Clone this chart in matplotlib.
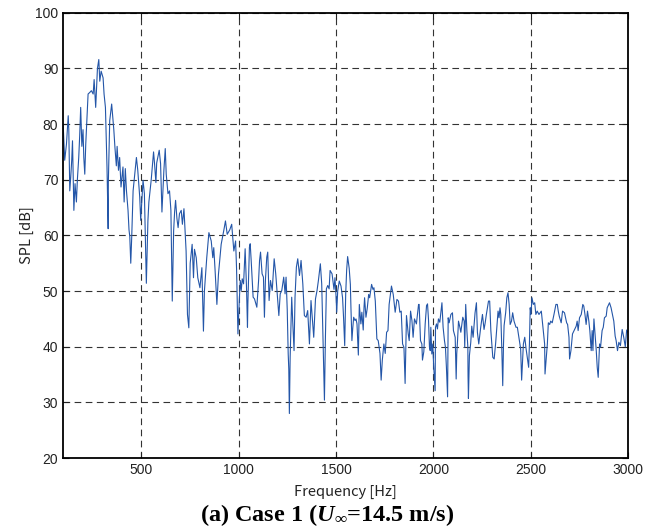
import matplotlib
matplotlib.use('Agg')
import matplotlib.pyplot as plt

# SPL spectrum, in pieces of ~500 Hz
freq_a = [100, 108, 117, 126, 129, 134, 139, 144, 148, 155, 161, 168, 173, 180, 185,
          190, 196, 202, 206, 211, 216, 220, 228, 237, 245, 254, 259, 267, 276, 283,
          288, 295, 305, 310, 317, 325, 331, 332, 339, 349, 360, 366, 373, 377, 384,
          390, 397, 407, 413, 419, 425, 433, 438, 442, 447, 452, 459, 466, 476, 483,
          493, 498, 510, 517, 522, 527]
spl_a = [80, 73.5, 76.4, 81.5, 79, 68, 70.5, 73.5, 77, 64.5, 69.3, 66, 70, 74, 78,
         83, 76, 79, 74, 71, 76.4, 79.4, 85.4, 85.7, 86, 85.4, 88, 83, 90, 91.6,
         87.7, 89.5, 88.3, 85.4, 83, 72.3, 61.2, 69.6, 80.6, 83.6, 79, 75.7, 72.5, 76, 71.7,
         74, 68.7, 72.3, 66, 72, 68, 64.5, 61, 59.8, 55, 59.8, 68, 70.5, 74, 71.7,
         66.9, 62.7, 69.9, 67.5, 59.8, 51.4]

freq_b = [535, 540, 552, 564, 569, 576, 580, 593, 600, 607, 617, 624, 629, 638, 646,
          653, 660, 667, 672, 677, 684, 690, 697, 706, 712, 720, 731, 738, 745, 752,
          762, 769, 774, 783, 791, 802, 812, 820, 825, 837, 848, 860, 868, 873, 880,
          889, 897, 911, 925, 933, 942, 955, 965, 976, 985, 990, 997]
spl_b = [62.6, 66, 70, 75, 72.9, 69.5, 73, 75.3, 72.9, 64.2, 71.7, 75.6, 71, 67.5, 68,
         64.5, 48.2, 60.8, 64.2, 66.3, 63, 61.4, 63.9, 64.5, 62, 64.8, 57.2, 45.8, 43.4, 55,
         58.4, 52.4, 57.5, 56, 52.4, 50.6, 54.2, 42.8, 50, 56, 60.5, 59, 56, 57.8, 53.6,
         47.6, 53, 58.4, 61, 62.6, 60.2, 61, 62, 57.2, 59, 54, 42.3]

freq_c = [1004, 1009, 1014, 1019, 1026, 1034, 1041, 1046, 1048, 1056, 1060, 1065, 1075, 1082, 1094,
          1103, 1108, 1113, 1121, 1128, 1133, 1138, 1145, 1150, 1157, 1164, 1173, 1183, 1191, 1207,
          1214, 1222, 1232, 1239, 1244, 1250, 1255, 1258, 1261, 1265, 1273, 1278, 1285, 1290, 1297,
          1304, 1313, 1321, 1330, 1338, 1347, 1355, 1364, 1372, 1386, 1395, 1403, 1410, 1420, 1427,
          1436, 1441, 1446, 1451, 1458, 1465, 1470, 1480]
spl_c = [48.3, 51.9, 50.1, 52.2, 51.3, 57.6, 50.7, 43.5, 47.7, 57.9, 58.5, 55.5, 48.9, 48.6, 47.1,
         51.9, 55.5, 57, 53.1, 52.5, 45.3, 51.9, 56.1, 57, 48.3, 51.9, 50.1, 55.8, 53.1, 45.6,
         49.5, 50.1, 52.5, 49.5, 52.5, 46.7, 38.7, 36, 28, 38.1, 48.9, 44.7, 39.3, 48.9, 54.3,
         55.8, 52.8, 55.5, 51.3, 45.6, 45.3, 46.5, 40.5, 48.3, 41.7, 48.6, 50.1, 51.9, 54.9, 51.3,
         37.5, 30.4, 41.7, 50.4, 51, 50.4, 53.7, 53.1]

freq_d = [1490, 1495, 1500, 1504, 1509, 1517, 1526, 1534, 1539, 1545, 1550, 1555, 1560, 1568, 1574,
          1577, 1582, 1586, 1591, 1598, 1603, 1608, 1615, 1620, 1628, 1633, 1640, 1644, 1647, 1654,
          1661, 1668, 1673, 1683, 1690, 1695, 1702, 1710, 1717, 1726, 1732, 1738, 1746, 1753, 1760,
          1767, 1773, 1785, 1794, 1804, 1813, 1821, 1828, 1835, 1842, 1849, 1855, 1862, 1871, 1876,
          1883, 1890, 1896, 1903, 1913, 1924, 1927, 1934, 1941, 1944, 1951, 1958]
spl_d = [50.3, 52.4, 49.4, 46.2, 50, 51.8, 50.9, 48.8, 45.3, 40.2, 49.4, 53.8, 56.2, 54.1, 51.2,
         47, 41.1, 43.2, 45.3, 44.7, 45, 44.1, 38.5, 47.6, 44.1, 46.2, 43, 47, 48.8, 45.3,
         47, 49.4, 48.8, 51.2, 50.3, 50.6, 48.2, 41.4, 41.1, 38.8, 34, 37.6, 40.5, 38.8, 42.6,
         42.9, 47.6, 50.9, 49.4, 46.2, 48.5, 48.2, 46.2, 46.4, 40.5, 39.9, 33.4, 45.6, 42.3, 41.1,
         46.4, 44.7, 41.7, 45, 44.1, 47.6, 47.6, 41.1, 40.5, 37.6, 39.1, 44.1]

freq_e = [1965, 1970, 1975, 1980, 1984, 1987, 1992, 1997, 2001, 2009, 2011, 2016, 2021, 2026, 2033,
          2044, 2050, 2057, 2062, 2067, 2073, 2076, 2081, 2090, 2098, 2103, 2112, 2115, 2117, 2120,
          2124, 2129, 2136, 2141, 2151, 2158, 2161, 2166, 2172, 2177, 2178, 2180, 2185, 2192, 2197,
          2204, 2214, 2221, 2226, 2233, 2243, 2252, 2260, 2266, 2272, 2283, 2289, 2295, 2300, 2305,
          2312, 2320, 2332, 2337, 2342, 2346, 2351, 2356, 2360, 2363, 2371, 2377, 2383, 2389, 2394,
          2401, 2407, 2414, 2424, 2431, 2440, 2448, 2453, 2462, 2469, 2476, 2482]
spl_e = [47.4, 47.7, 44.9, 39.9, 39.3, 43.5, 38.7, 40.5, 36.9, 32.1, 43.5, 44.1, 43.2, 45, 44.4,
         47.9, 43.5, 41.1, 39.9, 36.3, 31, 45.2, 44.3, 45.8, 46.1, 42.9, 41.7, 37.5, 34.2, 38.7,
         41.1, 44.6, 43.5, 42.6, 45.3, 44.6, 39.9, 47.6, 42.9, 39.9, 34.8, 30.7, 38.4, 40.8, 43.7,
         41.7, 46.1, 47.9, 42.6, 40.5, 43.5, 45.8, 43.1, 44.3, 45.8, 48.2, 48.2, 42.9, 40.5, 38.1,
         37.8, 40.8, 46.4, 45.2, 47, 45.8, 39.9, 33, 40.5, 43.8, 46.1, 48.8, 49.7, 47.6, 44,
         44.6, 46.1, 44.6, 43.5, 43.5, 41.4, 39.6, 34, 40.5, 41.7, 39.6, 38.1]

freq_f = [2489, 2493, 2497, 2501, 2506, 2513, 2520, 2526, 2533, 2542, 2554, 2561, 2571, 2573, 2579,
          2585, 2590, 2597, 2602, 2610, 2619, 2629, 2636, 2641, 2646, 2656, 2663, 2673, 2684, 2689,
          2696, 2699, 2706, 2714, 2725, 2733, 2738, 2743, 2750, 2759, 2767, 2772, 2778, 2784, 2791,
          2798, 2803, 2810, 2815, 2819, 2824, 2829, 2836, 2841, 2846, 2853, 2858, 2866, 2872, 2878,
          2887, 2892, 2904, 2912, 2919, 2926, 2933, 2938, 2945, 2952, 2960, 2969, 2977, 2985, 2992,
          3000]
spl_f = [36.3, 40.5, 47, 45.8, 48.8, 47.6, 47.9, 45.8, 46.4, 45.8, 46.4, 44, 40.5, 35.1, 37.8,
         40.5, 44.3, 44, 44.6, 44.3, 45.8, 47.6, 47.6, 46.4, 45.5, 44.3, 46.4, 46.1, 44.3, 44,
         41.7, 37.8, 39.3, 42.3, 43.1, 43.7, 44.6, 42.9, 45.2, 45.8, 47.6, 47.3, 45.8, 44, 46.4,
         44.6, 42.9, 39.3, 42.9, 39.3, 45, 42.6, 39.3, 36.3, 34.5, 40.5, 39.9, 42.9, 43.5, 45.2,
         45.5, 47, 47.9, 47, 45.8, 44.6, 41.9, 41.1, 39.3, 40.8, 40.2, 43.1, 41.7, 40, 43,
         42.5]

x_ticks = [500, 1000, 1500, 2000, 2500, 3000]
y_ticks = [20, 30, 40, 50, 60, 70, 80, 90, 100]
caption = r'(a) Case 1 ($U_{\infty}$=14.5 m/s)'

if __name__ == '__main__':
    freq = freq_a + freq_b + freq_c + freq_d + freq_e + freq_f
    spl = spl_a + spl_b + spl_c + spl_d + spl_e + spl_f

    plt.rcParams['mathtext.fontset'] = 'custom'
    plt.rcParams['mathtext.rm'] = 'Liberation Serif:bold'
    plt.rcParams['mathtext.it'] = 'Liberation Serif:bold:italic'

    fig = plt.figure(figsize=(6.51, 5.32), dpi=100)
    ax = fig.add_axes([0.097, 0.139, 0.868, 0.837])
    ax.plot(freq, spl, color='#2456a8', linewidth=0.8)

    ax.set_xlim(100, 3000)
    ax.set_ylim(20, 100)
    ax.set_xticks(x_ticks)
    ax.set_yticks(y_ticks)
    ax.grid(True, color='#333333', linestyle=(0, (6, 4)), linewidth=0.8)
    ax.tick_params(direction='in', top=True, right=True, length=4,
                   labelsize=10, colors='#222222')
    for lbl in ax.get_xticklabels() + ax.get_yticklabels():
        lbl.set_family('Liberation Sans')
    for sp in ax.spines.values():
        sp.set_linewidth(1.3)

    ax.set_xlabel('Frequency [Hz]', fontsize=10.5, family='Noto Sans CJK JP',
                  labelpad=6, color='#222222')
    ax.set_ylabel('SPL [dB]', fontsize=10.5, family='Noto Sans CJK JP',
                  labelpad=1, color='#222222')
    fig.text(0.502, 0.008, caption, ha='center', va='bottom', fontsize=17.5,
             family='Liberation Serif', weight='bold')

    fig.savefig('out.png', dpi=100)
    plt.close()
